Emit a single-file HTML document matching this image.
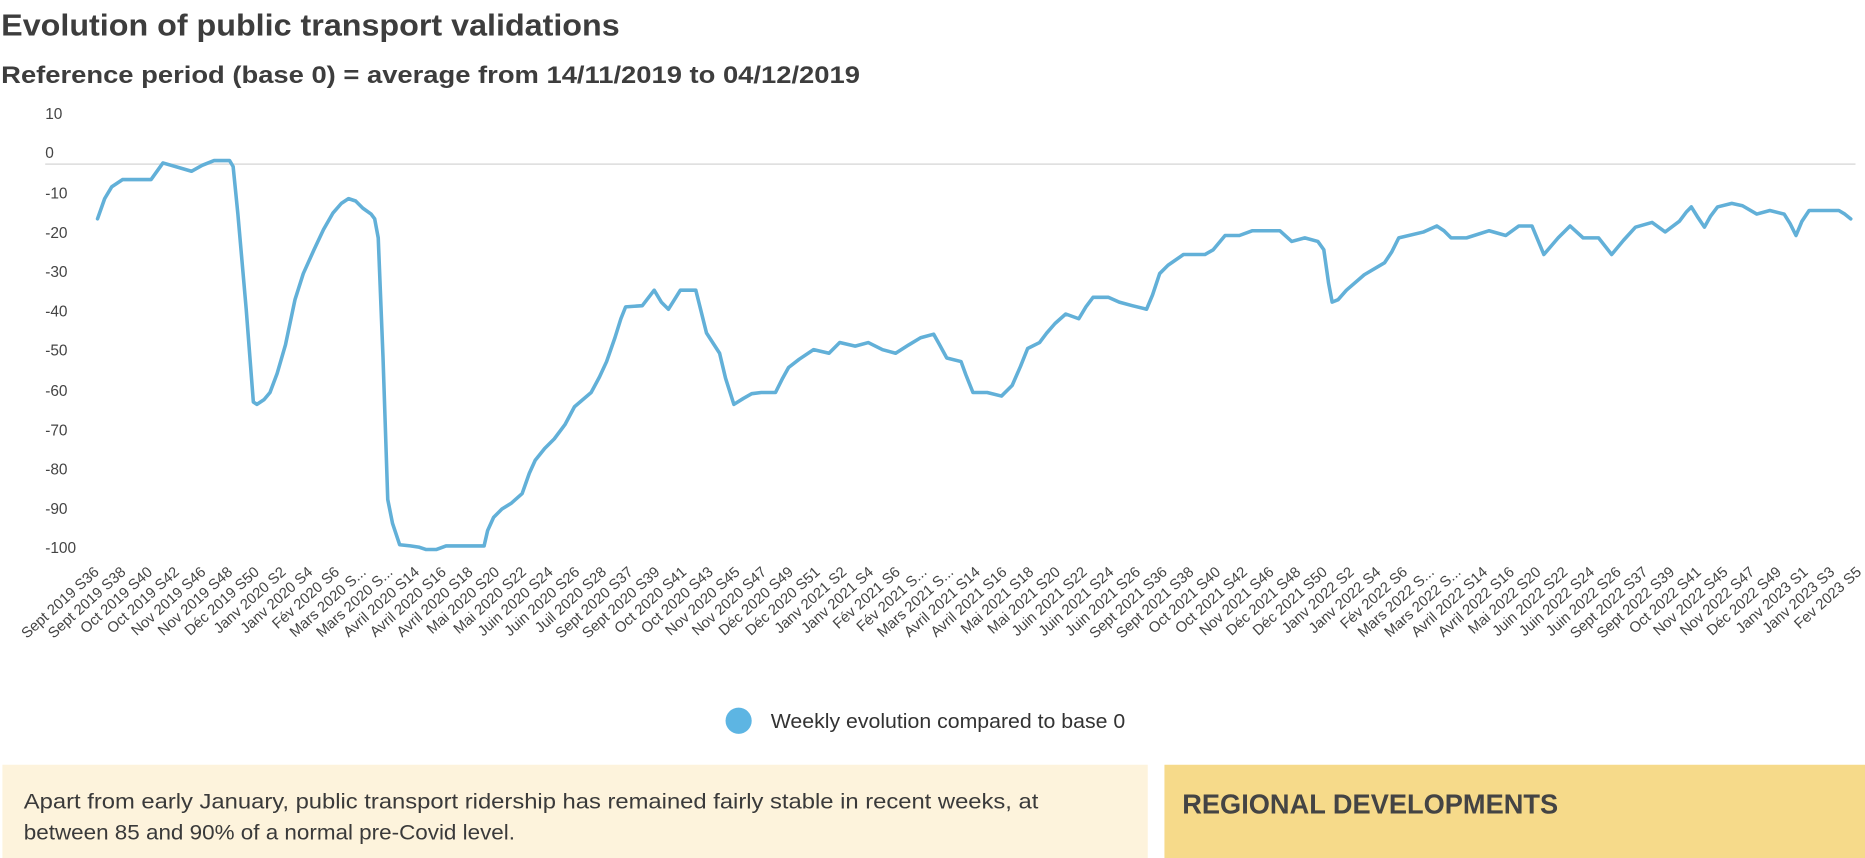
<!DOCTYPE html>
<html><head><meta charset="utf-8"><style>
html,body{margin:0;padding:0;background:#fff;}
svg{display:block;}
text{font-family:"Liberation Sans",sans-serif;}
</style></head><body>
<svg width="1865" height="858" viewBox="0 0 1568 721.4" preserveAspectRatio="none" xmlns="http://www.w3.org/2000/svg">
<text x="1" y="30" font-size="26" font-weight="bold" fill="#3d3d3d" textLength="520" lengthAdjust="spacingAndGlyphs">Evolution of public transport validations</text>
<text x="1" y="70" font-size="20" font-weight="bold" fill="#3d3d3d" textLength="722" lengthAdjust="spacingAndGlyphs">Reference period (base 0) = average from 14/11/2019 to 04/12/2019</text>
<g font-size="13" fill="#444">
<text x="38" y="100">10</text><text x="38" y="133">0</text><text x="38" y="167">-10</text><text x="38" y="200">-20</text><text x="38" y="233">-30</text><text x="38" y="266">-40</text><text x="38" y="299">-50</text><text x="38" y="333">-60</text><text x="38" y="366">-70</text><text x="38" y="399">-80</text><text x="38" y="432">-90</text><text x="38" y="465">-100</text>
</g>
<line x1="38" y1="138" x2="1560" y2="138" stroke="#dcdcdc" stroke-width="1.3"/>
<polyline fill="none" stroke="#62b0d8" stroke-width="3" stroke-linejoin="round" stroke-linecap="round" points="82,184 88,167 94,157 103,151 127,151 137,137 161,144 170,139 180,135 193,135 196,140 200,180 207,260 213,338 216,340 222,336 227,330 233,314 240,290 248,252 255,230 264,210 272,193 280,179 287,171 293,167 299,169 305,175 312,180 315,184 318,200 322,300 326,420 330,440 336,458 345,459 352,460 358,462 367,462 375,459 390,459 407,459 410,446 415,435 422,428 430,423 439,415 445,398 450,387 458,377 466,369 475,357 483,342 490,336 497,330 504,317 510,304 517,284 522,268 526,258 540,257 550,244 556,254 562,260 567,252 572,244 585,244 589,260 594,280 605,297 610,318 617,340 625,335 632,331 640,330 652,330 658,318 663,309 672,302 684,294 697,297 706,288 719,291 730,288 742,294 753,297 764,290 774,284 785,281 790,290 796,301 808,304 812,315 818,330 830,330 842,333 851,324 858,308 864,293 874,288 880,280 887,272 896,264 907,268 913,258 919,250 932,250 941,254 952,257 964,260 969,248 975,230 982,223 995,214 1013,214 1020,210 1030,198 1042,198 1053,194 1076,194 1086,203 1097,200 1108,203 1113,210 1117,238 1120,254 1125,252 1132,244 1147,231 1164,221 1170,212 1176,200 1197,195 1208,190 1214,194 1220,200 1233,200 1252,194 1266,198 1277,190 1288,190 1298,214 1310,200 1320,190 1331,200 1344,200 1355,214 1365,202 1375,191 1389,187 1400,195 1412,186 1418,178 1422,174 1427,182 1433,191 1438,182 1444,174 1456,171 1465,173 1477,180 1488,177 1500,180 1505,188 1510,198 1515,186 1521,177 1546,177 1551,180 1556,184"/>
<g id="xl" font-size="12.5" fill="#444" text-anchor="end"></g>
<circle cx="621" cy="606" r="11" fill="#5db5e3"/>
<text x="648" y="612" font-size="17" fill="#333" textLength="298" lengthAdjust="spacingAndGlyphs">Weekly evolution compared to base 0</text>
<rect x="2" y="643" width="963" height="79" fill="#fdf3dc"/>
<rect x="979" y="643" width="589" height="79" fill="#f6da8a"/>
<text x="20" y="680" font-size="17.5" fill="#3a3a3a" textLength="853" lengthAdjust="spacingAndGlyphs">Apart from early January, public transport ridership has remained fairly stable in recent weeks, at</text>
<text x="20" y="706" font-size="17.5" fill="#3a3a3a" textLength="413" lengthAdjust="spacingAndGlyphs">between 85 and 90% of a normal pre-Covid level.</text>
<text x="994" y="684" font-size="23" font-weight="bold" fill="#444" textLength="316" lengthAdjust="spacingAndGlyphs">REGIONAL DEVELOPMENTS</text>
</svg>
<script>
var L=["Sept 2019 S36","Sept 2019 S38","Oct 2019 S40","Oct 2019 S42","Nov 2019 S46","Nov 2019 S48","Déc 2019 S50","Janv 2020 S2","Janv 2020 S4","Fév 2020 S6","Mars 2020 S...","Mars 2020 S...","Avril 2020 S14","Avril 2020 S16","Avril 2020 S18","Mai 2020 S20","Mai 2020 S22","Juin 2020 S24","Juin 2020 S26","Juil 2020 S28","Sept 2020 S37","Sept 2020 S39","Oct 2020 S41","Oct 2020 S43","Nov 2020 S45","Nov 2020 S47","Déc 2020 S49","Déc 2020 S51","Janv 2021 S2","Janv 2021 S4","Fév 2021 S6","Fév 2021 S...","Mars 2021 S...","Avril 2021 S14","Avril 2021 S16","Mai 2021 S18","Mai 2021 S20","Juin 2021 S22","Juin 2021 S24","Juin 2021 S26","Sept 2021 S36","Sept 2021 S38","Oct 2021 S40","Oct 2021 S42","Nov 2021 S46","Déc 2021 S48","Déc 2021 S50","Janv 2022 S2","Janv 2022 S4","Fév 2022 S6","Mars 2022 S...","Mars 2022 S...","Avril 2022 S14","Avril 2022 S16","Mai 2022 S20","Juin 2022 S22","Juin 2022 S24","Juin 2022 S26","Sept 2022 S37","Sept 2022 S39","Oct 2022 S41","Nov 2022 S45","Nov 2022 S47","Déc 2022 S49","Janv 2023 S1","Janv 2023 S3","Fev 2023 S5"];
var g=document.getElementById("xl"),ns="http://www.w3.org/2000/svg";
for(var i=0;i<L.length;i++){var x=84+i*22.45,y=482;var t=document.createElementNS(ns,"text");t.setAttribute("x",x);t.setAttribute("y",y);t.setAttribute("transform","rotate(-42 "+x+" "+y+")");t.textContent=L[i];g.appendChild(t);}
</script>
</body></html>
